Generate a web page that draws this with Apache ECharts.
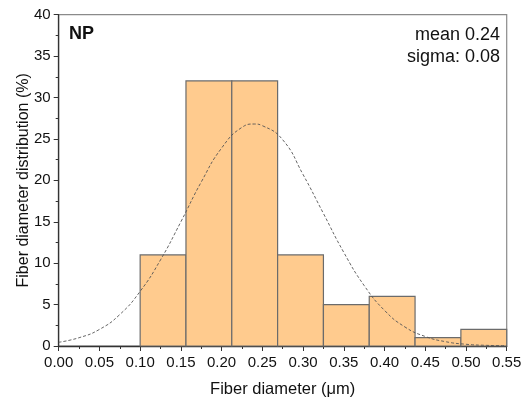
<!DOCTYPE html>
<html><head><meta charset="utf-8">
<script src="https://cdn.jsdelivr.net/npm/echarts@6/dist/echarts.min.js"></script>
<style>html,body{margin:0;padding:0;background:#fff}#c{width:527px;height:403px}</style>
</head><body><div id="c"></div>
<script>
// Histogram bins (edges in µm) and counts (%)
const binEdges = [0.100, 0.15625, 0.2125, 0.26875, 0.325, 0.38125, 0.4375, 0.49375, 0.55];
const binValues = [11, 32, 32, 11, 5, 6, 1, 2];
// Fitted normal curve
const curveX = [0.000, 0.025, 0.050, 0.075, 0.100, 0.125, 0.150, 0.175, 0.200, 0.225, 0.240, 0.250, 0.275, 0.300, 0.325, 0.350, 0.375, 0.400, 0.425, 0.450, 0.475, 0.500, 0.525, 0.550];
const curveY = [0.45, 1.0, 2.0, 3.8, 6.6, 10.4, 15.0, 19.8, 23.9, 26.4, 26.8, 26.6, 24.9, 20.7, 16.0, 11.3, 7.3, 4.3, 2.3, 1.15, 0.52, 0.21, 0.08, 0.03];
const xTicks = {min: 0, max: 0.55, interval: 0.05};
const yTicks = {min: 0, max: 40, interval: 5};

const barData = binValues.map((v, i) => [binEdges[i], binEdges[i + 1], v]);
const curveData = curveX.map((x, i) => [x, curveY[i]]);

const chart = echarts.init(document.getElementById('c'));
const font = 'Liberation Sans, Arial, sans-serif';
chart.setOption({
  animation: false,
  backgroundColor: '#ffffff',
  grid: {left: 58.7, right: 20.3, top: 14.7, bottom: 56, show: true, borderColor: '#8a8a8a', borderWidth: 1.2},
  xAxis: {
    type: 'value', min: xTicks.min, max: xTicks.max, interval: xTicks.interval,
    name: 'Fiber diameter (\u03bcm)', nameLocation: 'middle', nameGap: 35, nameMoveOverlap: false,
    nameTextStyle: {fontFamily: font, fontSize: 16.5, color: '#111'},
    axisLine: {show: true, onZero: false, lineStyle: {color: '#333', width: 1.3}},
    axisTick: {show: true, inside: false, length: 5, lineStyle: {color: '#333'}},
    minorTick: {show: true, splitNumber: 2, length: 3, lineStyle: {color: '#333'}},
    axisLabel: {fontFamily: font, fontSize: 15, color: '#111', margin: 9, formatter: v => v.toFixed(2)},
    splitLine: {show: false}
  },
  yAxis: {
    type: 'value', min: yTicks.min, max: yTicks.max, interval: yTicks.interval,
    name: 'Fiber diameter distribution (%)', nameLocation: 'middle', nameGap: 27, nameMoveOverlap: false,
    nameTextStyle: {fontFamily: font, fontSize: 16, color: '#111'},
    axisLine: {show: true, onZero: false, lineStyle: {color: '#333', width: 1.3}},
    axisTick: {show: true, inside: false, length: 5, lineStyle: {color: '#333'}},
    minorTick: {show: true, splitNumber: 2, length: 3, lineStyle: {color: '#333'}},
    axisLabel: {fontFamily: font, fontSize: 15, color: '#111', margin: 8},
    splitLine: {show: false}
  },
  series: [
    {
      type: 'custom',
      data: barData,
      encode: {x: [0, 1], y: 2},
      renderItem: function (params, api) {
        const p0 = api.coord([api.value(0), api.value(2)]);
        const p1 = api.coord([api.value(1), 0]);
        return {
          type: 'rect',
          shape: {x: p0[0], y: p0[1], width: p1[0] - p0[0], height: p1[1] - p0[1]},
          style: {fill: '#ffcb8e', stroke: '#6b6b6b', lineWidth: 1.2}
        };
      },
      z: 2
    },
    {
      type: 'line', data: curveData, smooth: true, showSymbol: false,
      lineStyle: {color: '#555', width: 0.9, type: [3, 2]}, z: 3
    }
  ],
  graphic: [
    {type: 'text', left: 69, top: 25, style: {text: 'NP', fontFamily: font, fontSize: 18, fontWeight: 'bold', fill: '#111'}},
    {type: 'text', right: 27, top: 26, style: {text: 'mean 0.24', fontFamily: font, fontSize: 18, fill: '#111', textAlign: 'right'}},
    {type: 'text', right: 27, top: 48, style: {text: 'sigma: 0.08', fontFamily: font, fontSize: 18, fill: '#111', textAlign: 'right'}}
  ]
});
</script></body></html>
